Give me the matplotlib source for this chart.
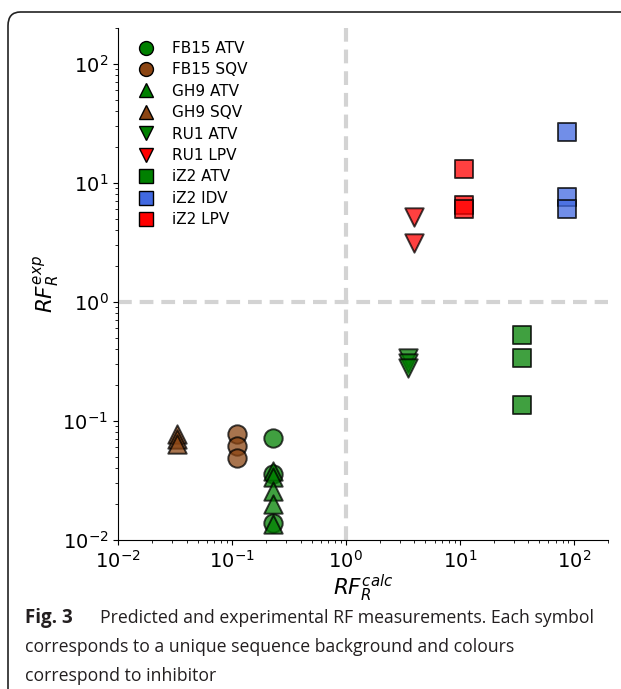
import matplotlib

matplotlib.use("Agg")
import matplotlib.pyplot as plt
from matplotlib.lines import Line2D
from matplotlib.patches import FancyBboxPatch

# series: (label, marker, colour, x values, y values)
labels = ["FB15 ATV", "FB15 SQV", "GH9 ATV", "GH9 SQV", "RU1 ATV",
          "RU1 LPV", "iZ2 ATV", "iZ2 IDV", "iZ2 LPV"]
markers = ["o", "o", "^", "^", "v", "v", "s", "s", "s"]
colours = ["green", "saddlebrown", "green", "saddlebrown", "green",
           "red", "green", "royalblue", "red"]

fb15_atv_x = [0.23, 0.23, 0.23]
fb15_atv_y = [0.072, 0.036, 0.014]
fb15_sqv_x = [0.11, 0.11, 0.11]
fb15_sqv_y = [0.077, 0.062, 0.049]
gh9_atv_x = [0.23, 0.23, 0.23, 0.23, 0.23]
gh9_atv_y = [0.038, 0.034, 0.026, 0.020, 0.0135]
gh9_sqv_x = [0.033, 0.033, 0.033]
gh9_sqv_y = [0.078, 0.070, 0.064]
ru1_atv_x = [3.5, 3.5, 3.5]
ru1_atv_y = [0.34, 0.305, 0.28]
ru1_lpv_x = [3.95, 3.95]
ru1_lpv_y = [5.2, 3.15]
iz2_atv_x = [35.5, 35.5, 35.5]
iz2_atv_y = [0.53, 0.34, 0.137]
iz2_idv_x = [87, 87, 87]
iz2_idv_y = [27, 7.6, 6.0]
iz2_lpv_x = [10.8, 10.8, 10.8]
iz2_lpv_y = [13.2, 6.5, 6.0]

xs = [fb15_atv_x, fb15_sqv_x, gh9_atv_x, gh9_sqv_x, ru1_atv_x,
      ru1_lpv_x, iz2_atv_x, iz2_idv_x, iz2_lpv_x]
ys = [fb15_atv_y, fb15_sqv_y, gh9_atv_y, gh9_sqv_y, ru1_atv_y,
      ru1_lpv_y, iz2_atv_y, iz2_idv_y, iz2_lpv_y]

fig = plt.figure(figsize=(6.21, 6.89), dpi=100)
W, H = 621, 689
ax = fig.add_axes([118 / W, 1 - 540 / H, (608 - 118) / W, (540 - 28) / H])

for x, y, m, c in zip(xs, ys, markers, colours):
    ax.scatter(x, y, s=175, marker=m, color=c, alpha=0.75,
               edgecolors="black", linewidths=1.4, zorder=3)

ax.axvline(1, color="#d3d3d3", lw=3, ls=(0, (3.3, 1.9)), zorder=1)
ax.axhline(1, color="#d3d3d3", lw=3, ls=(0, (3.3, 1.9)), zorder=1)

ax.set_xscale("log")
ax.set_yscale("log")
ax.set_xlim(0.01, 200)
ax.set_ylim(0.01, 200)
ax.tick_params(labelsize=14)
for s in ("top", "right"):
    ax.spines[s].set_visible(False)

ax.set_xlabel(r"$RF_R^{calc}$", fontsize=15.5, labelpad=1)
ax.set_ylabel(r"$RF_R^{exp}$", fontsize=15.5, labelpad=0)

handles = [Line2D([], [], ls="none", marker=m, color=c, markeredgecolor="black",
                  markersize=10)
           for m, c in zip(markers, colours)]
ax.legend(handles, labels, loc="upper left", frameon=False, fontsize=11,
          handletextpad=0.7, labelspacing=0.42, borderaxespad=0.45)

# journal frame and caption
fig.patches.append(FancyBboxPatch((8 / W, -0.1), 1.2, 1 - 12 / H + 0.1,
                                  boxstyle="round,pad=0,rounding_size=0.02",
                                  transform=fig.transFigure, fill=False,
                                  ec="#222222", lw=1.2))
cap = dict(family="Open Sans", fontsize=12.7, color="#231f20", va="center")
fig.text(25 / W, 1 - 618 / H, "Fig. 3", fontweight="bold", fontsize=13.5,
         family="Open Sans", color="#231f20", va="center")
fig.text(100 / W, 1 - 618 / H,
         "Predicted and experimental RF measurements. Each symbol", **cap)
fig.text(25 / W, 1 - 647 / H,
         "corresponds to a unique sequence background and colours", **cap)
fig.text(25 / W, 1 - 676 / H, "correspond to inhibitor", **cap)

fig.savefig("out.png", dpi=100)
